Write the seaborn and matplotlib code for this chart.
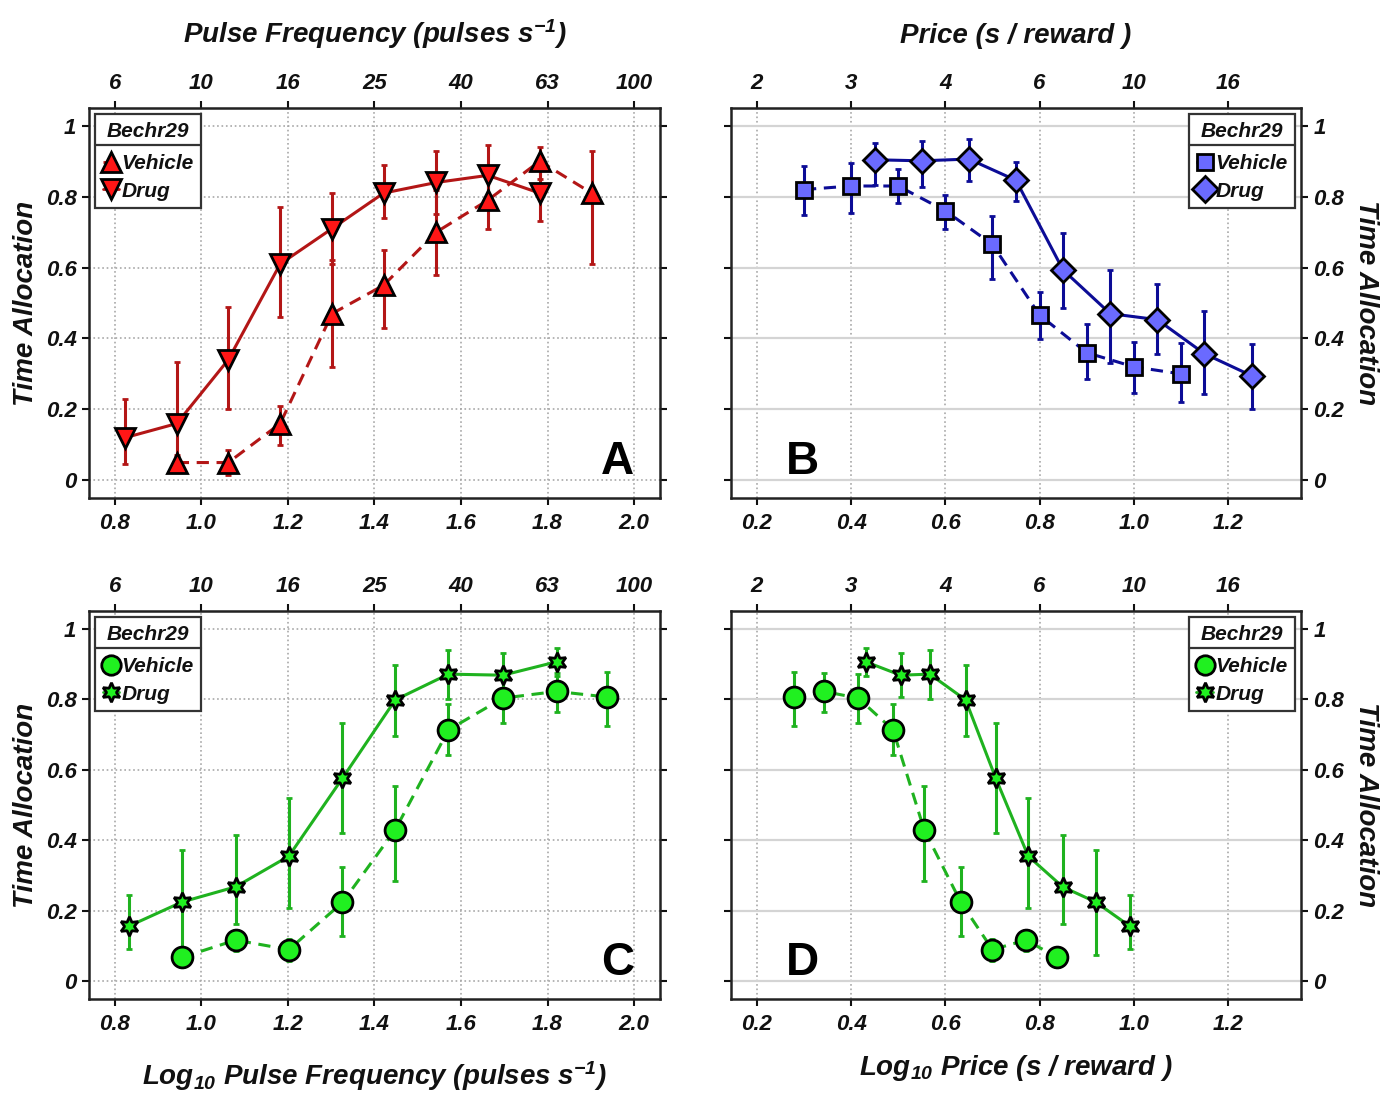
import numpy as np
import seaborn as sns
import matplotlib.pyplot as plt
from matplotlib.lines import Line2D

# ---- data ----
# A: time allocation vs log10 pulse frequency
a_veh_x = [0.943, 1.062, 1.182, 1.302, 1.421, 1.543, 1.662, 1.782, 1.902]
a_veh_y = [0.05, 0.05, 0.16, 0.47, 0.55, 0.70, 0.79, 0.90, 0.81]
a_veh_lo = [0.03, 0.015, 0.10, 0.32, 0.43, 0.58, 0.71, 0.85, 0.61]
a_veh_hi = [0.07, 0.085, 0.21, 0.62, 0.65, 0.82, 0.85, 0.94, 0.93]
a_drug_x = [0.823, 0.943, 1.062, 1.182, 1.302, 1.421, 1.543, 1.662, 1.782]
a_drug_y = [0.12, 0.16, 0.34, 0.61, 0.71, 0.81, 0.84, 0.86, 0.81]
a_drug_lo = [0.045, 0.043, 0.20, 0.46, 0.61, 0.74, 0.75, 0.78, 0.73]
a_drug_hi = [0.23, 0.335, 0.49, 0.77, 0.81, 0.89, 0.93, 0.945, 0.895]

# B: time allocation vs log10 price
b_veh_x = [0.3, 0.4, 0.5, 0.6, 0.7, 0.8, 0.9, 1.0, 1.1]
b_veh_y = [0.82, 0.83, 0.83, 0.76, 0.665, 0.466, 0.36, 0.32, 0.30]
b_veh_lo = [0.748, 0.753, 0.783, 0.708, 0.569, 0.399, 0.287, 0.246, 0.22]
b_veh_hi = [0.887, 0.896, 0.877, 0.805, 0.744, 0.532, 0.442, 0.389, 0.386]
b_drug_x = [0.45, 0.55, 0.65, 0.75, 0.85, 0.95, 1.05, 1.15, 1.25]
b_drug_y = [0.904, 0.901, 0.906, 0.846, 0.593, 0.47, 0.453, 0.357, 0.295]
b_drug_lo = [0.832, 0.826, 0.844, 0.788, 0.486, 0.331, 0.356, 0.243, 0.201]
b_drug_hi = [0.951, 0.958, 0.962, 0.898, 0.698, 0.592, 0.554, 0.477, 0.383]

# C: time allocation vs log10 pulse frequency
c_veh_x = [0.955, 1.079, 1.202, 1.326, 1.448, 1.571, 1.697, 1.821, 1.938]
c_veh_y = [0.068, 0.117, 0.09, 0.224, 0.43, 0.713, 0.803, 0.822, 0.806]
c_veh_lo = [0.042, 0.087, 0.059, 0.13, 0.285, 0.642, 0.733, 0.765, 0.724]
c_veh_hi = [0.095, 0.147, 0.12, 0.325, 0.554, 0.786, 0.870, 0.873, 0.877]
c_drug_x = [0.833, 0.955, 1.079, 1.202, 1.326, 1.448, 1.571, 1.697, 1.821]
c_drug_y = [0.157, 0.225, 0.268, 0.355, 0.576, 0.798, 0.871, 0.868, 0.906]
c_drug_lo = [0.092, 0.075, 0.164, 0.208, 0.421, 0.697, 0.801, 0.807, 0.866]
c_drug_hi = [0.244, 0.373, 0.415, 0.521, 0.732, 0.897, 0.939, 0.932, 0.944]

# D: time allocation vs log10 price
d_veh_x = [0.278, 0.342, 0.415, 0.489, 0.555, 0.633, 0.700, 0.771, 0.838]
d_veh_y = [0.806, 0.822, 0.803, 0.713, 0.43, 0.224, 0.09, 0.117, 0.068]
d_veh_lo = [0.724, 0.765, 0.733, 0.642, 0.285, 0.13, 0.059, 0.087, 0.042]
d_veh_hi = [0.877, 0.873, 0.870, 0.786, 0.554, 0.325, 0.12, 0.147, 0.095]
d_drug_x = [0.431, 0.505, 0.567, 0.643, 0.707, 0.776, 0.849, 0.919, 0.991]
d_drug_y = [0.906, 0.868, 0.871, 0.798, 0.576, 0.355, 0.268, 0.225, 0.157]
d_drug_lo = [0.866, 0.807, 0.801, 0.697, 0.421, 0.208, 0.164, 0.075, 0.092]
d_drug_hi = [0.944, 0.932, 0.939, 0.897, 0.732, 0.521, 0.415, 0.373, 0.244]

# axis ticks / labels
freq_ticks = [0.8, 1.0, 1.2, 1.4, 1.6, 1.8, 2.0]
freq_top_labels = ["6", "10", "16", "25", "40", "63", "100"]
price_ticks = [0.2, 0.4, 0.6, 0.8, 1.0, 1.2]
price_top_labels = ["2", "3", "4", "6", "10", "16"]
y_ticks = [0, 0.2, 0.4, 0.6, 0.8, 1.0]
y_labels = ["0", "0.2", "0.4", "0.6", "0.8", "1"]

sns.set_style("ticks")
FONT = ["Liberation Sans", "DejaVu Sans"]
plt.rcParams["font.family"] = FONT
plt.rcParams["font.weight"] = "bold"
plt.rcParams["font.style"] = "italic"
plt.rcParams["axes.labelweight"] = "bold"
plt.rcParams["mathtext.fontset"] = "custom"
plt.rcParams["mathtext.rm"] = "Liberation Sans:bold:italic"
plt.rcParams["mathtext.it"] = "Liberation Sans:bold:italic"
plt.rcParams["mathtext.bf"] = "Liberation Sans:bold:italic"
for key in ("text.color", "axes.labelcolor", "xtick.color", "ytick.color"):
    plt.rcParams[key] = "#111111"

red_line, red_face = "#b31616", "#ff1616"
blue_line, blue_face = "#0c0c96", "#6a6aff"
green_line, green_face = "#1fb21f", "#20f020"

TICK_FS = 16
LAB_FS = 20
LEG_FS = 15

fig = plt.figure(figsize=(13.94, 11.01), dpi=100)
axA = fig.add_axes([89 / 1394, 1 - 498 / 1101, 571 / 1394, 390 / 1101])
axB = fig.add_axes([731 / 1394, 1 - 498 / 1101, 570 / 1394, 390 / 1101])
axC = fig.add_axes([89 / 1394, 1 - 999 / 1101, 571 / 1394, 388 / 1101])
axD = fig.add_axes([731 / 1394, 1 - 999 / 1101, 570 / 1394, 388 / 1101])


def draw_series(ax, x, y, lo, hi, line, face, marker, ms, ls):
    y = np.array(y)
    ax.errorbar(x, y, yerr=[y - np.array(lo), np.array(hi) - y], fmt="none",
                ecolor=line, elinewidth=2.2, capsize=2.5, capthick=2, zorder=2)
    sns.lineplot(x=x, y=y, ax=ax, color=line, linestyle=ls, lw=2.2,
                 marker=marker, markersize=ms, markerfacecolor=face,
                 markeredgecolor="black", markeredgewidth=2, legend=False, zorder=3)


def setup_axes(ax, xticks, top_labels, xlim, right, solid_hgrid):
    ax.set_xlim(*xlim)
    ax.set_ylim(-0.05, 1.05)
    ax.set_xticks(xticks, labels=[f"{t:.1f}" for t in xticks])
    ax.set_yticks(y_ticks, labels=y_labels)
    ax.tick_params(axis="both", direction="out", length=5, width=1.5,
                   labelsize=TICK_FS, left=True, right=True)
    ax.tick_params(axis="x", pad=6)
    ax.tick_params(axis="y", pad=4)
    if right:
        ax.tick_params(axis="y", labelleft=False, labelright=True)
        ax.yaxis.set_label_position("right")
    for s in ax.spines.values():
        s.set_visible(True)
        s.set_linewidth(1.8)
        s.set_color("#222222")
    ax.xaxis.grid(True, ls=":", color="#a8a8a8", lw=1.2)
    if solid_hgrid:
        ax.yaxis.grid(True, ls="-", color="#d4d4d4", lw=1.6)
    else:
        ax.yaxis.grid(True, ls=":", color="#a8a8a8", lw=1.2)
    ax.set_axisbelow(True)
    ax.set_xlabel("")
    ax.set_ylabel("")
    top = ax.secondary_xaxis("top")
    top.set_xticks(xticks, labels=top_labels)
    top.tick_params(direction="out", length=5, width=1.5, labelsize=TICK_FS, pad=5)
    return top


def add_legend(ax, face, veh_marker, veh_ms, drug_marker, drug_ms, line, loc):
    handles = [
        Line2D([0], [0], color=line, ls=(0, (4, 2.5)), lw=2, marker=veh_marker, ms=veh_ms,
               mfc=face, mec="black", mew=2, label="Vehicle"),
        Line2D([0], [0], color=line, ls="-", lw=2, marker=drug_marker, ms=drug_ms,
               mfc=face, mec="black", mew=2, label="Drug"),
    ]
    leg = ax.legend(handles=handles, title="Bechr29", loc=loc, fancybox=False,
                    framealpha=1, edgecolor="#333333", fontsize=LEG_FS, title_fontsize=LEG_FS,
                    handlelength=0.8, handletextpad=0.1, borderpad=0.35,
                    labelspacing=0.4, borderaxespad=0.3)
    leg.get_frame().set_linewidth(1.6)
    leg._legend_box.sep = 10
    return leg


# A
draw_series(axA, a_veh_x, a_veh_y, a_veh_lo, a_veh_hi, red_line, red_face, "^", 15, (0, (4, 2.5)))
draw_series(axA, a_drug_x, a_drug_y, a_drug_lo, a_drug_hi, red_line, red_face, "v", 15, "-")
topA = setup_axes(axA, freq_ticks, freq_top_labels, (0.74, 2.06), False, False)
legA = add_legend(axA, red_face, "^", 14, "v", 14, red_line, "upper left")

# B
draw_series(axB, b_veh_x, b_veh_y, b_veh_lo, b_veh_hi, blue_line, blue_face, "s", 12, (0, (4, 2.5)))
draw_series(axB, b_drug_x, b_drug_y, b_drug_lo, b_drug_hi, blue_line, blue_face, "D", 12, "-")
topB = setup_axes(axB, price_ticks, price_top_labels, (0.145, 1.355), True, True)
legB = add_legend(axB, blue_face, "s", 12, "D", 13, blue_line, "upper right")

# C
star = (6, 1, 0)
draw_series(axC, c_veh_x, c_veh_y, c_veh_lo, c_veh_hi, green_line, green_face, "o", 15, (0, (4, 2.5)))
draw_series(axC, c_drug_x, c_drug_y, c_drug_lo, c_drug_hi, green_line, green_face, star, 14, "-")
topC = setup_axes(axC, freq_ticks, freq_top_labels, (0.74, 2.06), False, False)
legC = add_legend(axC, green_face, "o", 14, star, 14, green_line, "upper left")

# D
draw_series(axD, d_veh_x, d_veh_y, d_veh_lo, d_veh_hi, green_line, green_face, "o", 15, (0, (4, 2.5)))
draw_series(axD, d_drug_x, d_drug_y, d_drug_lo, d_drug_hi, green_line, green_face, star, 14, "-")
topD = setup_axes(axD, price_ticks, price_top_labels, (0.145, 1.355), True, True)
legD = add_legend(axD, green_face, "o", 14, star, 14, green_line, "upper right")

# axis labels
lab = dict(fontsize=LAB_FS, fontweight="bold", fontstyle="italic")
topA.set_xlabel("Pulse Frequency (pulses s$^{-1}$)", labelpad=22, **lab)
topB.set_xlabel("Price (s / reward )", labelpad=22, **lab)
axC.set_xlabel("Log$_{10}$ Pulse Frequency (pulses s$^{-1}$)", labelpad=17, **lab)
axD.set_xlabel("Log$_{10}$ Price (s / reward )", labelpad=13, **lab)
for ax in (axA, axC):
    ax.set_ylabel("Time Allocation", labelpad=5, **lab)
for ax in (axB, axD):
    ax.set_ylabel("Time Allocation", rotation=270, va="bottom", labelpad=6, **lab)

# panel letters
for ax, letter, xpos in ((axA, "A", 0.926), (axB, "B", 0.126), (axC, "C", 0.926), (axD, "D", 0.126)):
    ax.text(xpos, 0.092, letter, transform=ax.transAxes, ha="center", va="center",
            fontsize=33, fontweight="bold", fontstyle="normal", color="black")

# separator between legend title and entries
fig.canvas.draw()
inv = fig.transFigure.inverted()
for leg in (legA, legB, legC, legD):
    box = leg.get_frame().get_window_extent()
    tb = leg.get_title().get_window_extent()
    ysep = tb.y0 - 4
    (x0, y0), (x1, y1) = inv.transform([(box.x0, ysep), (box.x1, ysep)])
    fig.add_artist(Line2D([x0, x1], [y0, y1], color="#333333", lw=1.6, transform=fig.transFigure))

fig.savefig("out.png", dpi=100)
